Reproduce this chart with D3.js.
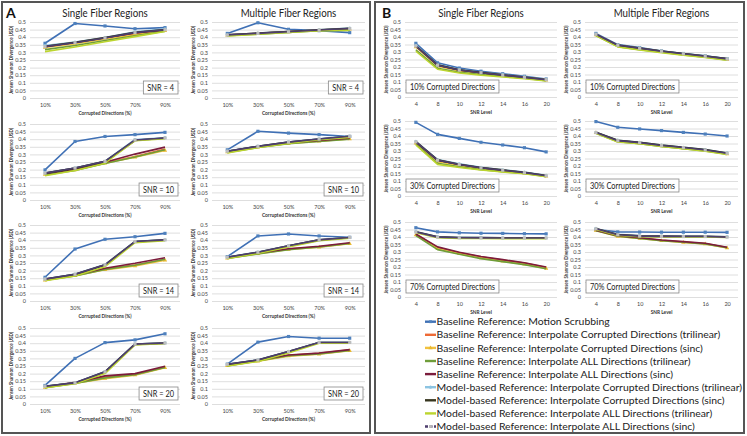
<!DOCTYPE html>
<html><head><meta charset="utf-8">
<script src="https://cdn.jsdelivr.net/npm/d3@7"></script>
<style>body{margin:0;background:#fff} svg{display:block} text{font-family:Lato,"Open Sans",sans-serif}</style>
</head><body><svg id="c" width="747" height="436"></svg>
<script>
const seriesNames = [
  "Baseline Reference: Motion Scrubbing",
  "Baseline Reference: Interpolate Corrupted Directions (trilinear)",
  "Baseline Reference: Interpolate Corrupted Directions (sinc)",
  "Baseline Reference: Interpolate ALL Directions (trilinear)",
  "Baseline Reference: Interpolate ALL Directions (sinc)",
  "Model-based Reference: Interpolate Corrupted Directions (trilinear)",
  "Model-based Reference: Interpolate Corrupted Directions (sinc)",
  "Model-based Reference: Interpolate ALL Directions (trilinear)",
  "Model-based Reference: Interpolate ALL Directions (sinc)"
];
const seriesColors = ["#3F70B5","#EE6A35","#F2C23F","#6F9D3A","#7B1C3C","#8CC4E2","#37361F","#BCD52F","#4E3E6E"];
const seriesMarkers = ["square",null,"triangle",null,null,"circle",null,null,"square"];
const markerColors = ["#4F81BD",null,"#E8B830",null,null,"#8CC4E2",null,null,"#BDBDBD"];
const pctCats = ["10%","30%","50%","70%","90%"];
const snrCats = ["4","8","10","12","14","16","20"];
const yTicks = [0,0.05,0.1,0.15,0.2,0.25,0.3,0.35,0.4,0.45,0.5];
const snrLabels = ["SNR = 4","SNR = 10","SNR = 14","SNR = 20"];
const pctLabels = ["10% Corrupted Directions","30% Corrupted Directions","70% Corrupted Directions"];
const colTitles = ["Single Fiber Regions","Multiple Fiber Regions"];

// Panel A: JSD vs corrupted directions
const singleSnr4 = [
  [0.360,0.490,0.474,0.456,0.463],[0.336,0.362,0.392,0.420,0.446],[0.332,0.358,0.388,0.416,0.442],
  [0.318,0.345,0.378,0.410,0.440],[0.338,0.365,0.396,0.428,0.448],[0.345,0.368,0.398,0.435,0.455],
  [0.340,0.366,0.397,0.432,0.450],[0.305,0.336,0.370,0.404,0.437],[0.338,0.364,0.395,0.430,0.449]];
const multiSnr4 = [
  [0.425,0.495,0.452,0.443,0.430],[0.414,0.425,0.436,0.446,0.455],[0.412,0.423,0.434,0.444,0.452],
  [0.410,0.420,0.432,0.442,0.448],[0.415,0.426,0.437,0.447,0.457],[0.416,0.427,0.438,0.448,0.460],
  [0.415,0.426,0.437,0.447,0.458],[0.408,0.419,0.431,0.442,0.445],[0.414,0.425,0.436,0.447,0.457]];
const singleSnr10 = [
  [0.198,0.385,0.418,0.430,0.445],[0.172,0.200,0.245,0.286,0.335],[0.168,0.197,0.242,0.282,0.326],
  [0.165,0.195,0.240,0.283,0.330],[0.174,0.203,0.248,0.302,0.348],[0.178,0.211,0.255,0.398,0.410],
  [0.176,0.209,0.253,0.392,0.407],[0.159,0.194,0.242,0.390,0.403],[0.177,0.210,0.254,0.395,0.408]];
const multiSnr10 = [
  [0.330,0.452,0.440,0.430,0.418],[0.318,0.350,0.375,0.390,0.405],[0.315,0.347,0.372,0.387,0.402],
  [0.312,0.345,0.370,0.385,0.400],[0.320,0.352,0.377,0.392,0.407],[0.322,0.354,0.382,0.402,0.420],
  [0.320,0.352,0.381,0.400,0.418],[0.310,0.345,0.372,0.396,0.412],[0.321,0.353,0.381,0.401,0.419]];
const singleSnr14 = [
  [0.156,0.342,0.406,0.423,0.445],[0.140,0.170,0.212,0.237,0.272],[0.137,0.166,0.205,0.230,0.268],
  [0.136,0.165,0.208,0.235,0.275],[0.142,0.172,0.216,0.248,0.285],[0.145,0.177,0.240,0.393,0.403],
  [0.143,0.175,0.237,0.390,0.401],[0.134,0.164,0.226,0.384,0.397],[0.144,0.176,0.238,0.391,0.402]];
const multiSnr14 = [
  [0.292,0.428,0.441,0.428,0.419],[0.285,0.314,0.342,0.357,0.380],[0.282,0.311,0.339,0.354,0.377],
  [0.280,0.310,0.338,0.355,0.378],[0.287,0.316,0.344,0.360,0.383],[0.289,0.322,0.364,0.403,0.419],
  [0.287,0.320,0.362,0.401,0.417],[0.280,0.313,0.356,0.397,0.413],[0.288,0.321,0.363,0.402,0.418]];
const singleSnr20 = [
  [0.122,0.300,0.404,0.422,0.462],[0.112,0.140,0.178,0.195,0.242],[0.108,0.136,0.167,0.190,0.238],
  [0.107,0.135,0.172,0.192,0.240],[0.114,0.142,0.185,0.200,0.249],[0.118,0.140,0.214,0.395,0.402],
  [0.116,0.138,0.211,0.393,0.400],[0.107,0.133,0.200,0.389,0.398],[0.117,0.139,0.212,0.394,0.401]];
const multiSnr20 = [
  [0.262,0.407,0.444,0.433,0.433],[0.255,0.287,0.320,0.333,0.356],[0.252,0.282,0.315,0.328,0.350],
  [0.250,0.283,0.317,0.330,0.353],[0.257,0.289,0.322,0.335,0.358],[0.262,0.291,0.346,0.406,0.406],
  [0.260,0.289,0.344,0.404,0.404],[0.250,0.280,0.335,0.400,0.400],[0.261,0.290,0.345,0.405,0.405]];

// Panel B: JSD vs SNR level
const singlePct10 = [
  [0.358,0.228,0.193,0.172,0.155,0.138,0.120],[0.338,0.210,0.178,0.160,0.145,0.130,0.114],
  [0.334,0.206,0.174,0.157,0.142,0.128,0.112],[0.315,0.192,0.165,0.150,0.138,0.125,0.109],
  [0.340,0.212,0.180,0.162,0.147,0.132,0.116],[0.345,0.216,0.183,0.165,0.149,0.134,0.118],
  [0.341,0.213,0.181,0.163,0.147,0.132,0.116],[0.305,0.185,0.160,0.145,0.134,0.122,0.107],
  [0.340,0.212,0.180,0.162,0.146,0.131,0.115]];
const multiPct10 = [
  [0.424,0.349,0.329,0.307,0.290,0.274,0.255],[0.416,0.343,0.323,0.303,0.286,0.270,0.252],
  [0.414,0.341,0.321,0.301,0.284,0.268,0.250],[0.410,0.336,0.316,0.298,0.281,0.266,0.247],
  [0.417,0.344,0.324,0.304,0.287,0.271,0.253],[0.420,0.347,0.327,0.306,0.289,0.273,0.256],
  [0.418,0.345,0.325,0.305,0.288,0.272,0.255],[0.409,0.334,0.314,0.296,0.279,0.264,0.245],
  [0.418,0.345,0.325,0.305,0.288,0.272,0.254]];
const singlePct30 = [
  [0.491,0.411,0.384,0.358,0.340,0.322,0.294],[0.358,0.236,0.208,0.186,0.170,0.155,0.135],
  [0.352,0.230,0.203,0.182,0.166,0.152,0.132],[0.345,0.218,0.195,0.176,0.162,0.150,0.130],
  [0.360,0.238,0.210,0.188,0.172,0.156,0.136],[0.365,0.243,0.214,0.191,0.175,0.159,0.138],
  [0.362,0.240,0.211,0.189,0.173,0.157,0.136],[0.340,0.211,0.190,0.173,0.160,0.148,0.128],
  [0.361,0.239,0.210,0.188,0.172,0.156,0.135]];
const multiPct30 = [
  [0.496,0.458,0.447,0.436,0.424,0.413,0.400],[0.422,0.368,0.354,0.336,0.321,0.305,0.282],
  [0.421,0.366,0.352,0.334,0.319,0.303,0.280],[0.419,0.362,0.349,0.331,0.316,0.300,0.278],
  [0.423,0.369,0.355,0.337,0.322,0.306,0.283],[0.425,0.372,0.358,0.340,0.325,0.309,0.287],
  [0.424,0.370,0.357,0.338,0.324,0.308,0.286],[0.418,0.360,0.348,0.330,0.315,0.299,0.277],
  [0.423,0.369,0.356,0.337,0.323,0.307,0.285]];
const singlePct70 = [
  [0.462,0.434,0.428,0.425,0.424,0.422,0.421],[0.418,0.330,0.295,0.268,0.246,0.226,0.197],
  [0.414,0.322,0.288,0.260,0.238,0.218,0.190],[0.410,0.316,0.285,0.256,0.236,0.216,0.188],
  [0.420,0.334,0.298,0.270,0.249,0.228,0.200],[0.436,0.402,0.398,0.397,0.395,0.395,0.395],
  [0.434,0.400,0.396,0.395,0.393,0.393,0.393],[0.428,0.395,0.391,0.390,0.389,0.389,0.389],
  [0.433,0.399,0.395,0.394,0.393,0.393,0.393]];
const multiPct70 = [
  [0.449,0.434,0.433,0.432,0.432,0.432,0.431],[0.445,0.407,0.393,0.378,0.367,0.356,0.330],
  [0.443,0.404,0.390,0.375,0.364,0.353,0.327],[0.442,0.405,0.391,0.376,0.365,0.354,0.328],
  [0.446,0.409,0.395,0.380,0.369,0.358,0.332],[0.457,0.418,0.409,0.407,0.406,0.405,0.402],
  [0.456,0.416,0.407,0.405,0.404,0.404,0.400],[0.450,0.410,0.402,0.401,0.400,0.400,0.397],
  [0.455,0.415,0.406,0.404,0.403,0.403,0.399]];

const svg = d3.select("#c");
const K = 0.86; // horizontal condensation to mimic a narrow font
function condense(sel, k) {
  sel.each(function () {
    const w = this.getComputedTextLength();
    d3.select(this).attr("textLength", w * k).attr("lengthAdjust", "spacingAndGlyphs");
  });
  return sel;
}

// frames
svg.append("rect").attr("x", 2).attr("y", 2).attr("width", 368).attr("height", 431)
  .attr("fill", "none").attr("stroke", "#555").attr("stroke-width", 2);
svg.append("rect").attr("x", 375).attr("y", 2).attr("width", 369).attr("height", 431)
  .attr("fill", "none").attr("stroke", "#555").attr("stroke-width", 2);

svg.append("text").attr("x", 6).attr("y", 18).attr("font-size", 14).attr("font-weight", "bold").attr("fill", "#111").text("A");
svg.append("text").attr("x", 382).attr("y", 18).attr("font-size", 14).attr("font-weight", "bold").attr("fill", "#111").text("B");

function symbolFor(m) {
  return m === "square" ? d3.symbolSquare : m === "triangle" ? d3.symbolTriangle : d3.symbolCircle;
}

function drawChart(cats, data, left, right, top, h, xTitle, label, labelLeft) {
  const g = svg.append("g");
  const x = d3.scalePoint().domain(cats).range([left, right]).padding(0.5);
  const y = d3.scaleLinear().domain([0, 0.5]).range([top + h, top]);
  // gridlines
  g.append("g").attr("transform", `translate(${left},0)`)
    .call(d3.axisLeft(y).tickValues(yTicks).tickSize(-(right - left)).tickFormat(""))
    .call(s => s.select(".domain").remove())
    .call(s => s.selectAll("line").attr("stroke", "#D6D6D6").attr("stroke-width", 0.8));
  // y tick labels
  const ya = g.append("g").attr("transform", `translate(${left - 4},0)`)
    .call(d3.axisLeft(y).tickValues(yTicks).tickSize(0).tickPadding(0).tickFormat(d => String(+d.toFixed(2))));
  ya.select(".domain").remove();
  ya.selectAll("text").attr("font-size", 5.5).attr("fill", "#444").attr("font-family", "Lato,sans-serif");
  // x tick labels
  const xa = g.append("g").attr("transform", `translate(0,${top + h + 5})`)
    .call(d3.axisBottom(x).tickSize(0).tickPadding(0));
  xa.select(".domain").remove();
  xa.selectAll("text").attr("font-size", 5.5).attr("fill", "#444").attr("font-family", "Lato,sans-serif");
  // axis titles
  g.append("text").attr("x", (left + right) / 2).attr("y", top + h + 17).attr("text-anchor", "middle")
    .attr("font-size", 5.6).attr("font-weight", "bold").attr("fill", "#333").text(xTitle).call(condense, K);
  g.append("text").attr("transform", `translate(${left - 17},${top + h / 2}) rotate(-90)`)
    .attr("text-anchor", "middle").attr("font-size", 5.3).attr("font-weight", "bold").attr("fill", "#333")
    .text("Jensen Shannon Divergence (JSD)").call(condense, K);
  // series
  const line = d3.line().x((d, i) => x(cats[i])).y(d => y(d));
  data.forEach((vals, si) => {
    g.append("path").datum(vals).attr("d", line).attr("fill", "none")
      .attr("stroke", seriesColors[si]).attr("stroke-width", si === 6 ? 1.9 : 1.6)
      .attr("stroke-linejoin", "round");
    if (seriesMarkers[si]) {
      const sym = d3.symbol().type(symbolFor(seriesMarkers[si])).size(seriesMarkers[si] === "square" ? 10 : 8);
      g.selectAll(null).data(vals).enter().append("path")
        .attr("d", sym).attr("transform", (d, i) => `translate(${x(cats[i])},${y(d)})`)
        .attr("fill", markerColors[si]).attr("stroke", "none");
    }
  });
  // label box
  const lg = g.append("g");
  const t = lg.append("text").attr("font-size", 8.6).attr("fill", "#222").text(label);
  condense(t, K);
  const tw = +t.attr("textLength");
  const bw = tw + 8, bh = 13;
  const bx = labelLeft ? left + 1 : right - 2 - bw;
  const by = top + h - 4 - bh;
  lg.insert("rect", "text").attr("x", bx).attr("y", by).attr("width", bw).attr("height", bh)
    .attr("fill", "#fff").attr("stroke", "#888").attr("stroke-width", 0.8);
  t.attr("x", bx + 4).attr("y", by + 9.6);
}

// Panel A
const aCols = [[30, 180], [212, 365]];
const aTops = [22, 124, 225, 328];
const aSingle = [singleSnr4, singleSnr10, singleSnr14, singleSnr20];
const aMulti = [multiSnr4, multiSnr10, multiSnr14, multiSnr20];
aTops.forEach((top, r) => {
  drawChart(pctCats, aSingle[r], aCols[0][0], aCols[0][1], top, 76, "Corrupted Directions (%)", snrLabels[r], false);
  drawChart(pctCats, aMulti[r], aCols[1][0], aCols[1][1], top, 76, "Corrupted Directions (%)", snrLabels[r], false);
});
// Panel B
const bCols = [[405, 557], [585, 738]];
const bTops = [22, 121, 222];
const bSingle = [singlePct10, singlePct30, singlePct70];
const bMulti = [multiPct10, multiPct30, multiPct70];
bTops.forEach((top, r) => {
  drawChart(snrCats, bSingle[r], bCols[0][0], bCols[0][1], top, 75, "SNR Level", pctLabels[r], true);
  drawChart(snrCats, bMulti[r], bCols[1][0], bCols[1][1], top, 75, "SNR Level", pctLabels[r], true);
});

// column titles
[[aCols[0], colTitles[0]], [aCols[1], colTitles[1]], [bCols[0], colTitles[0]], [bCols[1], colTitles[1]]].forEach(([c, t]) => {
  svg.append("text").attr("x", (c[0] + c[1]) / 2).attr("y", 17).attr("text-anchor", "middle")
    .attr("font-size", 11.3).attr("fill", "#222").text(t).call(condense, K);
});

// legend
const leg = svg.append("g");
seriesNames.forEach((n, i) => {
  const yy = 321.7 + i * 13.1;
  leg.append("line").attr("x1", 425).attr("x2", 436).attr("y1", yy).attr("y2", yy)
    .attr("stroke", seriesColors[i]).attr("stroke-width", 2.4)
    .attr("stroke-dasharray", i === 8 ? "3,1.5" : null);
  if (seriesMarkers[i]) {
    leg.append("path").attr("d", d3.symbol().type(symbolFor(seriesMarkers[i])).size(8)())
      .attr("transform", `translate(430.5,${yy})`).attr("fill", markerColors[i]);
  }
  leg.append("text").attr("x", 436.5).attr("y", yy + 3.6).attr("font-size", 10.4).attr("fill", "#222").text(n);
});
</script></body></html>
